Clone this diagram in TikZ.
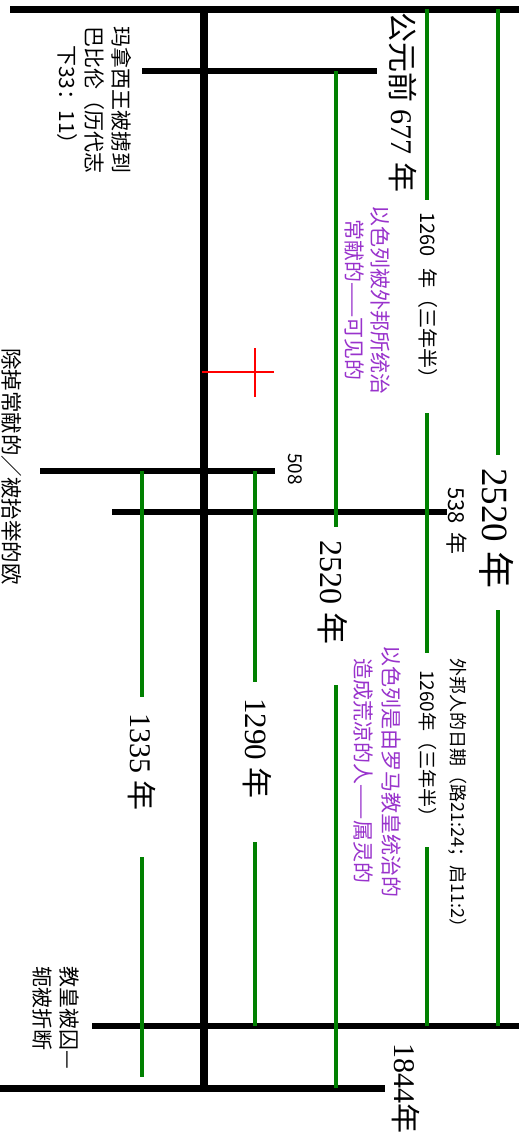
\documentclass[tikz,border=0pt]{standalone}
\usepackage{fontspec}
\setmainfont{Liberation Serif}
\newfontfamily\cjk{Noto Sans CJK SC}
\newcommand\zh[1]{{\cjk #1}}
\definecolor{grn}{RGB}{0,128,0}
\definecolor{purp}{RGB}{153,51,204}
\tikzset{
  blk/.style={draw=black, line width=6pt},
  grline/.style={draw=grn, line width=4pt},
  redline/.style={draw=red, line width=2.5pt},
  vlab/.style={rotate=-90, inner sep=0pt, anchor=west},
  vblock/.style={rotate=-90, inner sep=0pt, anchor=center},
}
\begin{document}
\begin{tikzpicture}[x=1pt,y=-1pt]
\useasboundingbox (0,0) rectangle (527,1144);
\fill[white] (0,0) rectangle (527,1144);
% coordinates of timeline bars
\coordinate (topL) at (10,9);   \coordinate (topR) at (519,9);
\coordinate (mL) at (142,71);   \coordinate (mR) at (377,71);
\coordinate (aL) at (40,471);   \coordinate (aR) at (275,471);
\coordinate (bL) at (112,512);  \coordinate (bR) at (447,512);
\coordinate (cL) at (92,1026);  \coordinate (cR) at (519,1026);
\coordinate (dL) at (0,1088);   \coordinate (dR) at (385,1088);
\coordinate (axT) at (204,9);   \coordinate (axB) at (204,1088);
% black bars
\draw[blk, line width=8pt] (axT) -- (axB);
\draw[blk, line width=7pt] (topL) -- (topR);
\draw[blk] (mL) -- (mR);
\draw[blk] (aL) -- (aR);
\draw[blk] (bL) -- (bR);
\draw[blk] (cL) -- (cR);
\draw[blk, line width=7pt] (dL) -- (dR);
% green spans
\coordinate (g1a) at (427,9);   \coordinate (g1b) at (427,200);
\coordinate (g1c) at (427,413); \coordinate (g1d) at (427,653);
\coordinate (g1e) at (427,847); \coordinate (g1f) at (427,1026);
\coordinate (g2a) at (498,9);   \coordinate (g2b) at (498,455);
\coordinate (g2c) at (498,610); \coordinate (g2d) at (498,1026);
\coordinate (g3a) at (336,71);  \coordinate (g3b) at (336,527);
\coordinate (g3c) at (336,685); \coordinate (g3d) at (336,1088);
\coordinate (g4a) at (255,471); \coordinate (g4b) at (255,682);
\coordinate (g4c) at (255,842); \coordinate (g4d) at (255,1026);
\coordinate (g5a) at (142,471); \coordinate (g5b) at (142,697);
\coordinate (g5c) at (142,857); \coordinate (g5d) at (142,1077);
\draw[grline] (g1a) -- (g1b);
\draw[grline] (g1c) -- (g1d);
\draw[grline] (g1e) -- (g1f);
\draw[grline] (g2a) -- (g2b);
\draw[grline] (g2c) -- (g2d);
\draw[grline] (g3a) -- (g3b);
\draw[grline] (g3c) -- (g3d);
\draw[grline] (g4a) -- (g4b);
\draw[grline] (g4c) -- (g4d);
\draw[grline] (g5a) -- (g5b);
\draw[grline] (g5c) -- (g5d);
% red cross
\coordinate (rT) at (255,348); \coordinate (rB) at (255,397);
\coordinate (rL) at (202,372); \coordinate (rR) at (274,372);
\draw[redline] (rT) -- (rB);
\draw[redline] (rL) -- (rR);
% labels
\node[vlab, font=\fontsize{30}{32}\selectfont] (n677) at (403,12) {\zh{公元前} 677 \zh{年}};
\node[vblock, align=center, font=\cjk\fontsize{21}{27}\selectfont] (nMan) at (95,100) {玛拿西王被掳到\\巴比伦（历代志\\下33：11）};
\node[vblock, align=center, text=purp, font=\cjk\fontsize{21}{26}\selectfont] (nP1) at (367,300) {以色列被外邦所统治\\常献的——可见的};
\node[vlab, font=\cjk\fontsize{20}{22}\selectfont] (n1260a) at (428,212) {1260\hspace{0.6em}年（三年半）};
\node[vlab, font=\fontsize{37}{39}\selectfont] (n2520a) at (497,468) {2520 \zh{年}};
\node[vlab, font=\cjk\fontsize{22}{24}\selectfont] (n538) at (457,487) {538\hspace{0.4em}年};
\node[vlab, font=\cjk\fontsize{19}{21}\selectfont] (n508) at (295,453) {508};
\node[vlab, font=\fontsize{32}{34}\selectfont] (n2520b) at (333,540) {2520 \zh{年}};
\node[vlab, font=\cjk\fontsize{21.5}{23}\selectfont] (nRem) at (12,348) {除掉常献的／被抬举的欧};
\node[vlab, font=\fontsize{31}{33}\selectfont] (n1290) at (257,698) {1290 \zh{年}};
\node[vlab, font=\fontsize{30}{32}\selectfont] (n1335) at (142,713) {1335 \zh{年}};
\node[vlab, font=\cjk\fontsize{18}{20}\selectfont] (nGen) at (458,658) {外邦人的日期（路21:24；启11:2）};
\node[vlab, font=\cjk\fontsize{19}{21}\selectfont] (n1260b) at (428,670) {1260年（三年半）};
\node[vblock, align=center, text=purp, font=\cjk\fontsize{21}{28}\selectfont] (nP2) at (377,771) {以色列是由罗马教皇统治的\\造成荒凉的人——属灵的};
\node[vblock, align=left, font=\cjk\fontsize{21}{27}\selectfont] (nPope) at (56,1018) {教皇被囚—\\轭被折断};
\node[vlab, font=\fontsize{30}{32}\selectfont] (n1844) at (406,1043) {1844\zh{年}};
\end{tikzpicture}
\end{document}
